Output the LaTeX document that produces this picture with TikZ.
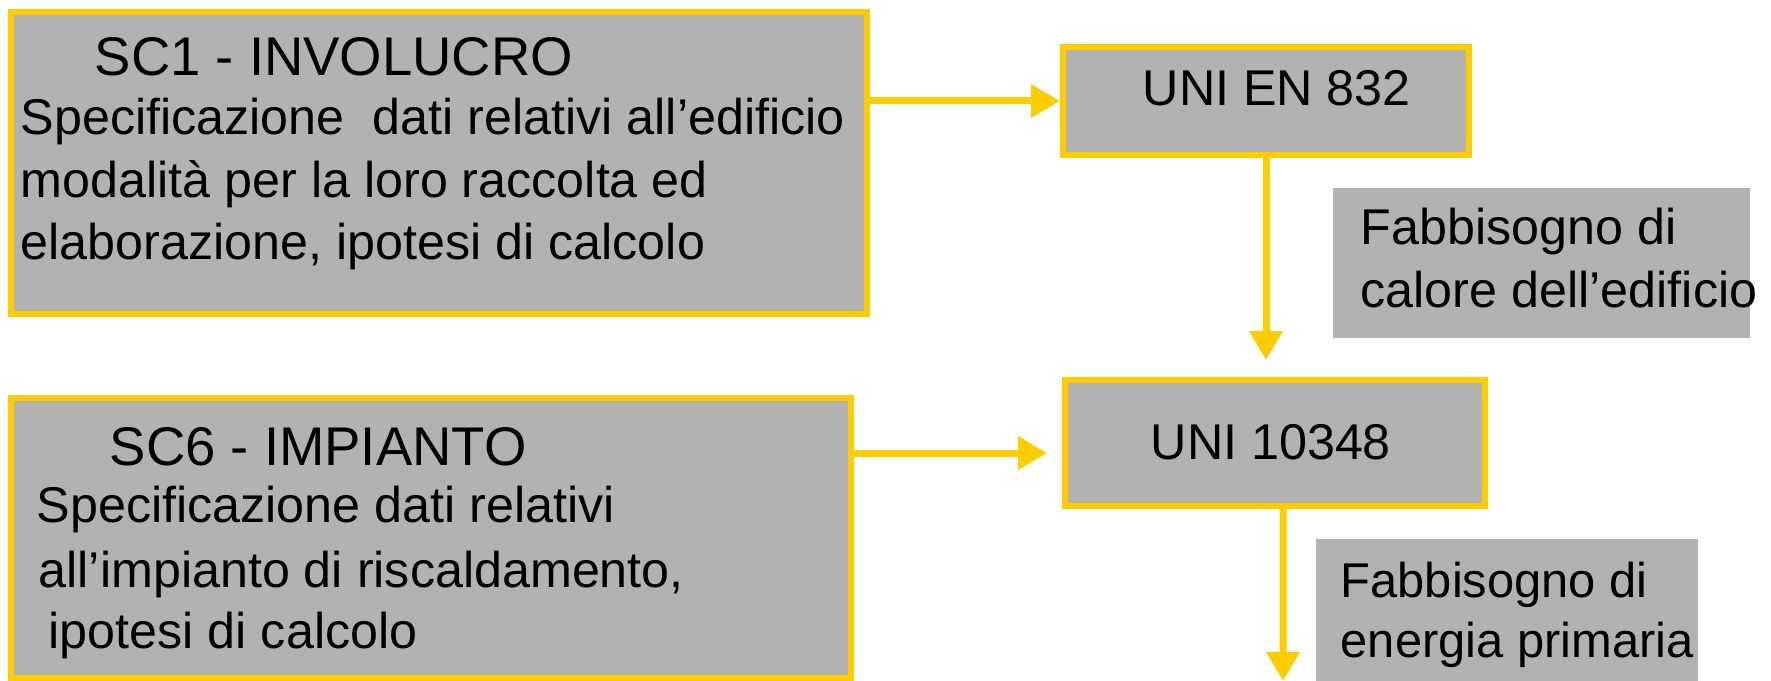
\documentclass[tikz,border=0pt]{standalone}
\usepackage{fontspec}
\setmainfont{Liberation Sans}
\usetikzlibrary{calc}
\usetikzlibrary{arrows.meta}

\definecolor{giallo}{RGB}{255,204,0}
\definecolor{grigio}{RGB}{178,178,178}

\begin{document}
\begin{tikzpicture}[x=0.1mm, y=-0.1mm,
  box/.style={draw=giallo, fill=grigio, line width=0.6mm, inner sep=0pt},
  tag/.style={fill=grigio, inner sep=0pt},
  flow/.style={draw=giallo, line width=0.7mm, -{Triangle[length=2.9mm, width=3.2mm]}},
  txt/.style={anchor=base west, inner sep=0pt, font=\fontsize{14.3}{17}\selectfont},
  titolo/.style={txt, font=\fontsize{15.5}{18}\selectfont}]
\useasboundingbox (0,0) rectangle (1771,681);

% riquadri
\node[box, minimum width=85.6mm, minimum height=30.2mm] (sc1) at (439,163) {};
\node[box, minimum width=84mm, minimum height=28mm] (sc6) at (431,538) {};
\node[box, minimum width=40.6mm, minimum height=10.8mm] (en832) at (1266,101) {};
\node[box, minimum width=42mm, minimum height=12.6mm] (uni10348) at (1275,443) {};
\node[tag, minimum width=41.7mm, minimum height=15mm] (calore) at (1541.5,263) {};
\node[tag, minimum width=38.2mm, minimum height=14.4mm] (primaria) at (1507,611) {};
\coordinate (fine) at (1283,681);

% testi
\node[titolo] (sc1t) at (94,76) {SC1 - INVOLUCRO};
\foreach \riga [count=\i] in {{Specificazione\ \ dati relativi all’edificio}, {modalità per la loro raccolta ed}, {elaborazione, ipotesi di calcolo}}
  \node[txt] (sc1r\i) at (20,73+62*\i) {\riga};

\node[titolo] (sc6t) at (109,465) {SC6 - IMPIANTO};
\foreach \xx/\yy/\riga [count=\i] in {36/522/{Specificazione dati relativi}, 38/587/{all’impianto di riscaldamento,}, 48/648/{ipotesi di calcolo}}
  \node[txt] (sc6r\i) at (\xx,\yy) {\riga};

\node[txt] (en832t) at (1142,106) {UNI EN 832};
\node[txt] (uni10348t) at (1150,459) {UNI 10348};

\node[txt] (calore1) at (1360,244) {Fabbisogno di};
\node[txt] (calore2) at (1360,307) {calore dell’edificio};
\node[txt, font=\fontsize{13.9}{16}\selectfont] (primaria1) at (1340,597) {Fabbisogno di};
\node[txt, font=\fontsize{13.9}{16}\selectfont] (primaria2) at (1340,657) {energia primaria};

% frecce
\draw[flow] (sc1.east |- en832.west) -- (en832.west);
\draw[flow, shorten >=1.5mm] ($(sc6.east |- uni10348.west)+(0,10)$) -- ($(uni10348.west)+(0,10)$);
\draw[flow, shorten >=1.7mm] (en832.south) -- (en832.south |- uni10348.north);
\draw[flow] ([xshift=0.8mm]uni10348.south) -- (fine);
\end{tikzpicture}
\end{document}
